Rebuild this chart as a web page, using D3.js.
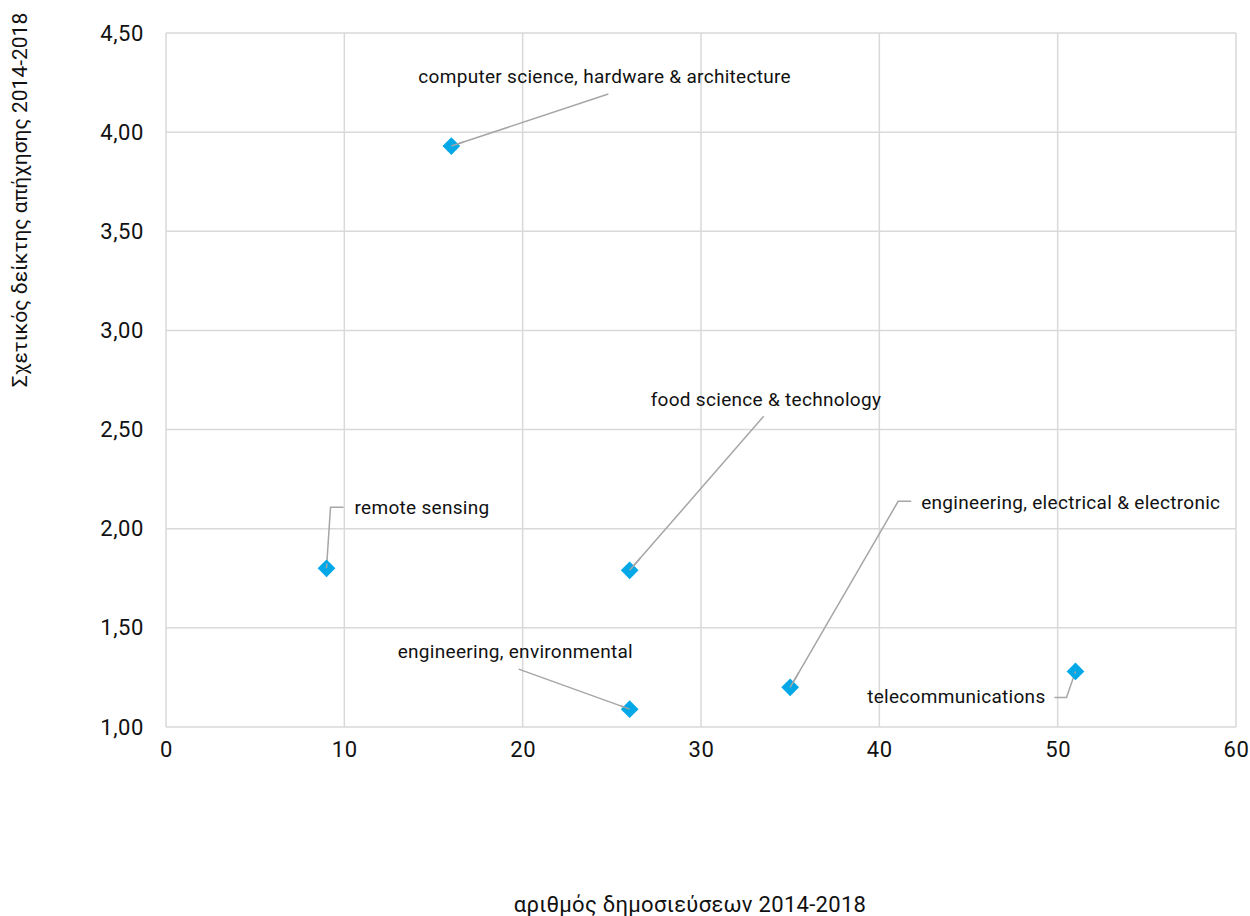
<!DOCTYPE html>
<html><head><meta charset="utf-8">
<script src="https://cdn.jsdelivr.net/npm/d3@7"></script>
<style>body{margin:0;background:#fff}text{font-family:Roboto,"DejaVu Sans",sans-serif;fill:#111}</style>
</head><body>
<svg id="c" width="1250" height="916"></svg>
<script>
const names = ["computer science, hardware & architecture","remote sensing","food science & technology","engineering, environmental","engineering, electrical & electronic","telecommunications"];
const pubs = [16, 9, 26, 26, 35, 51];
const citeIndex = [3.93, 1.80, 1.79, 1.09, 1.20, 1.28];
const xTicks = [0,10,20,30,40,50,60];
const yTicks = [1.0,1.5,2.0,2.5,3.0,3.5,4.0,4.5];
const xTitle = "αριθμός δημοσιεύσεων 2014-2018";
const yTitle = "Σχετικός δείκτης απήχησης 2014-2018";

// label layout (pixel offsets from point): elbow/end of leader line and text anchor
const labelLayout = [
  {pts:[[157,-52]], tx:-33, ty:-68, anchor:"start"},
  {pts:[[4,-61],[17,-61]], tx:28, ty:-59, anchor:"start"},
  {pts:[[134,-154]], tx:21, ty:-169, anchor:"start"},
  {pts:[[-111,-40]], tx:-232, ty:-56, anchor:"start"},
  {pts:[[108,-186],[121,-186]], tx:131, ty:-183, anchor:"start"},
  {pts:[[-9,26],[-21,26]], tx:-30, ty:27, anchor:"end"}
];

const svg = d3.select("#c");
const x = d3.scaleLinear().domain([0,60]).range([166,1236]);
const y = d3.scaleLinear().domain([1,4.5]).range([727,33]);

const grid = svg.append("g");
grid.selectAll(".v").data(xTicks).join("line")
  .attr("x1",d=>x(d)).attr("x2",d=>x(d)).attr("y1",y(1)).attr("y2",y(4.5))
  .attr("stroke","#d9d9d9").attr("stroke-width",1.5);
grid.selectAll(".h").data(yTicks).join("line")
  .attr("x1",x(0)).attr("x2",x(60)).attr("y1",d=>y(d)).attr("y2",d=>y(d))
  .attr("stroke","#d9d9d9").attr("stroke-width",1.5);

const fmt = d => d3.format(".2f")(d).replace(".", ",");
svg.append("g").attr("transform",`translate(${x(0)},0)`)
  .call(d3.axisLeft(y).tickValues(yTicks).tickFormat(fmt).tickSize(0).tickPadding(22))
  .call(g=>g.select(".domain").remove())
  .selectAll("text").style("font-size","22px").style("letter-spacing","0.6px").attr("fill","#111");
svg.append("g").attr("transform",`translate(0,${y(1)})`)
  .call(d3.axisBottom(x).tickValues(xTicks).tickSize(0).tickPadding(14))
  .call(g=>g.select(".domain").remove())
  .selectAll("text").style("font-size","22px").style("letter-spacing","0.6px").attr("fill","#111");

svg.append("text").attr("x",690).attr("y",912).attr("text-anchor","middle")
  .style("font-size","22px").style("letter-spacing","0.3px").text(xTitle);
svg.append("text").attr("transform","translate(27,200) rotate(-90)").attr("text-anchor","middle")
  .style("font-size","21px").text(yTitle);

const data = names.map((n,i)=>({n, x:pubs[i], y:citeIndex[i], l:labelLayout[i]}));

// leader lines
svg.append("g").selectAll("path").data(data).join("path")
  .attr("d",d=>{const px=x(d.x), py=y(d.y); return "M"+px+","+py+d.l.pts.map(p=>"L"+(px+p[0])+","+(py+p[1])).join("");})
  .attr("fill","none").attr("stroke","#a6a6a6").attr("stroke-width",1.5);

// markers
svg.append("g").selectAll("path").data(data).join("path")
  .attr("transform",d=>`translate(${x(d.x)},${y(d.y)})`)
  .attr("d",d3.symbol(d3.symbolDiamond2,200)())
  .attr("fill","#00a8e8");

// leader stub visible over marker
svg.append("g").selectAll("line").data(data).join("line")
  .attr("x1",d=>x(d.x)).attr("y1",d=>y(d.y))
  .attr("x2",d=>x(d.x)+d.l.pts[0][0]*0.08).attr("y2",d=>y(d.y)+d.l.pts[0][1]*0.08)
  .attr("stroke","#a6a6a6").attr("stroke-width",1.5);

svg.append("g").selectAll("text").data(data).join("text")
  .attr("x",d=>x(d.x)+d.l.tx).attr("y",d=>y(d.y)+d.l.ty)
  .attr("text-anchor",d=>d.l.anchor).attr("dominant-baseline","middle")
  .style("font-size","19px").style("letter-spacing","0.3px").text(d=>d.n);
</script>
</body></html>
